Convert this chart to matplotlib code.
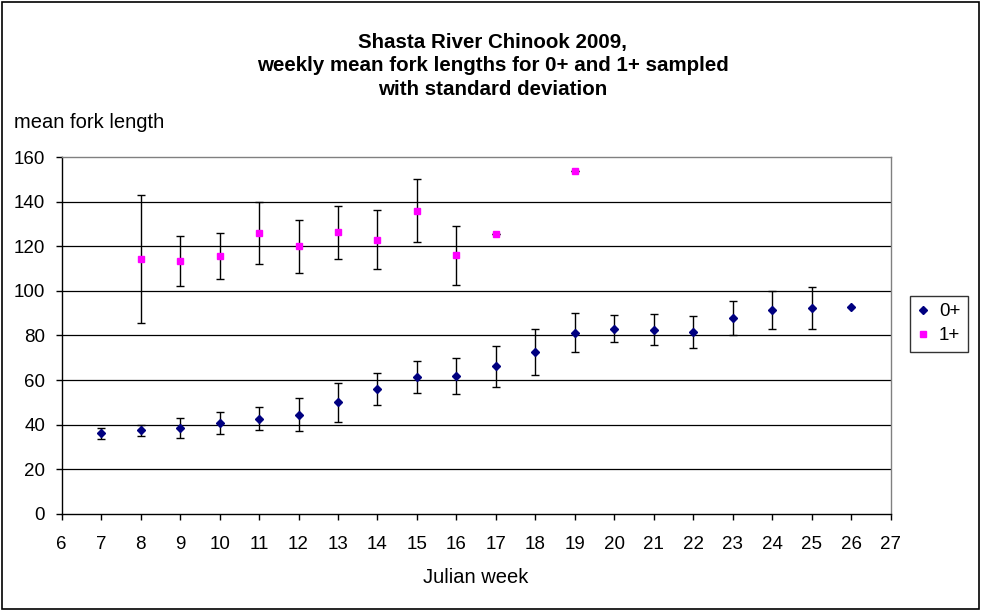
import matplotlib
matplotlib.use("Agg")
from matplotlib import pyplot as plt
from matplotlib.patches import Rectangle
import numpy as np

plt.rcParams['font.family'] = ['Liberation Sans', 'DejaVu Sans']

# weekly means and standard deviations, age 0+
weeks_0 = [7, 8, 9, 10, 11, 12, 13, 14, 15, 16, 17, 18, 19, 20, 21, 22, 23, 24, 25, 26]
mean_0 = [36.1, 37.4, 38.5, 40.7, 42.7, 44.4, 50.0, 55.9, 61.4, 61.9,
          66.1, 72.5, 81.3, 83.1, 82.6, 81.7, 87.7, 91.4, 92.3, 92.8]
sd_0 = [2.4, 2.6, 4.4, 4.8, 5.2, 7.4, 8.6, 7.1, 7.2, 8.2,
        9.3, 10.4, 8.6, 6.0, 7.0, 7.2, 7.7, 8.7, 9.4, np.nan]

# weekly means and standard deviations, age 1+
weeks_1 = [8, 9, 10, 11, 12, 13, 14, 15, 16, 17, 19]
mean_1 = [114.2, 113.3, 115.7, 125.9, 119.9, 126.3, 123.0, 136.0, 116.0, 125.7, 153.9]
sd_1 = [28.8, 11.3, 10.4, 13.8, 11.9, 11.9, 13.4, 14.1, 13.2, 0.0, 0.0]

fig = plt.figure(figsize=(9.81, 6.11), dpi=100)
ax = fig.add_axes([0.0629, 0.159, 0.845, 0.584])

# horizontal gridlines
for y in range(20, 160, 20):
    ax.axhline(y, color='black', linewidth=0.9, zorder=1)

ax.errorbar(weeks_0, mean_0, yerr=sd_0, fmt='D', color='#000080', markersize=4.5,
            ecolor='black', elinewidth=1, capsize=3.2, capthick=1, label='0+', zorder=3)
ax.errorbar(weeks_1, mean_1, yerr=sd_1, fmt='s', color='#FF00FF', markersize=4.6,
            ecolor='black', elinewidth=1, capsize=3.2, capthick=1, label='1+', zorder=3)

ax.set_xlim(6, 27)
ax.set_ylim(0, 160)
ax.set_xticks(range(6, 28))
ax.set_yticks(range(0, 161, 20))
ax.tick_params(labelsize=13.5, length=4, width=1, color='black')
ax.tick_params(axis='x', pad=12)
ax.tick_params(axis='y', pad=8)

for side in ('top', 'right'):
    ax.spines[side].set_color('#808080')
for side in ('left', 'bottom'):
    ax.spines[side].set_color('black')
for s in ax.spines.values():
    s.set_linewidth(1)

ax.set_xlabel('Julian week', fontsize=14.5, labelpad=11)

fig.text(0.502, 0.8925, 'Shasta River Chinook 2009,\nweekly mean fork lengths for 0+ and 1+ sampled\nwith standard deviation',
         ha='center', va='center', fontsize=14.8, fontweight='bold', linespacing=1.31)
fig.text(0.0143, 0.799, 'mean fork length', ha='left', va='center', fontsize=14.5)

# legend: markers only, no error bars
handles, labels = ax.get_legend_handles_labels()
handles = [h[0] for h in handles]
leg = ax.legend(handles, labels, loc='center left', bbox_to_anchor=(1.023, 0.533),
                frameon=True, fancybox=False, fontsize=13.5, handlelength=0.6,
                handletextpad=0.55, borderpad=0.4, borderaxespad=0, labelspacing=0.35,
                handleheight=0.7)
leg.get_frame().set_edgecolor('black')
leg.get_frame().set_linewidth(1)
leg._legend_box.align = 'left'

# outer chart border
fig.patches.append(Rectangle((0.002, 0.003), 0.996, 0.994, transform=fig.transFigure,
                             fill=False, edgecolor='black', linewidth=1.2))

fig.savefig('out.png', dpi=100)
